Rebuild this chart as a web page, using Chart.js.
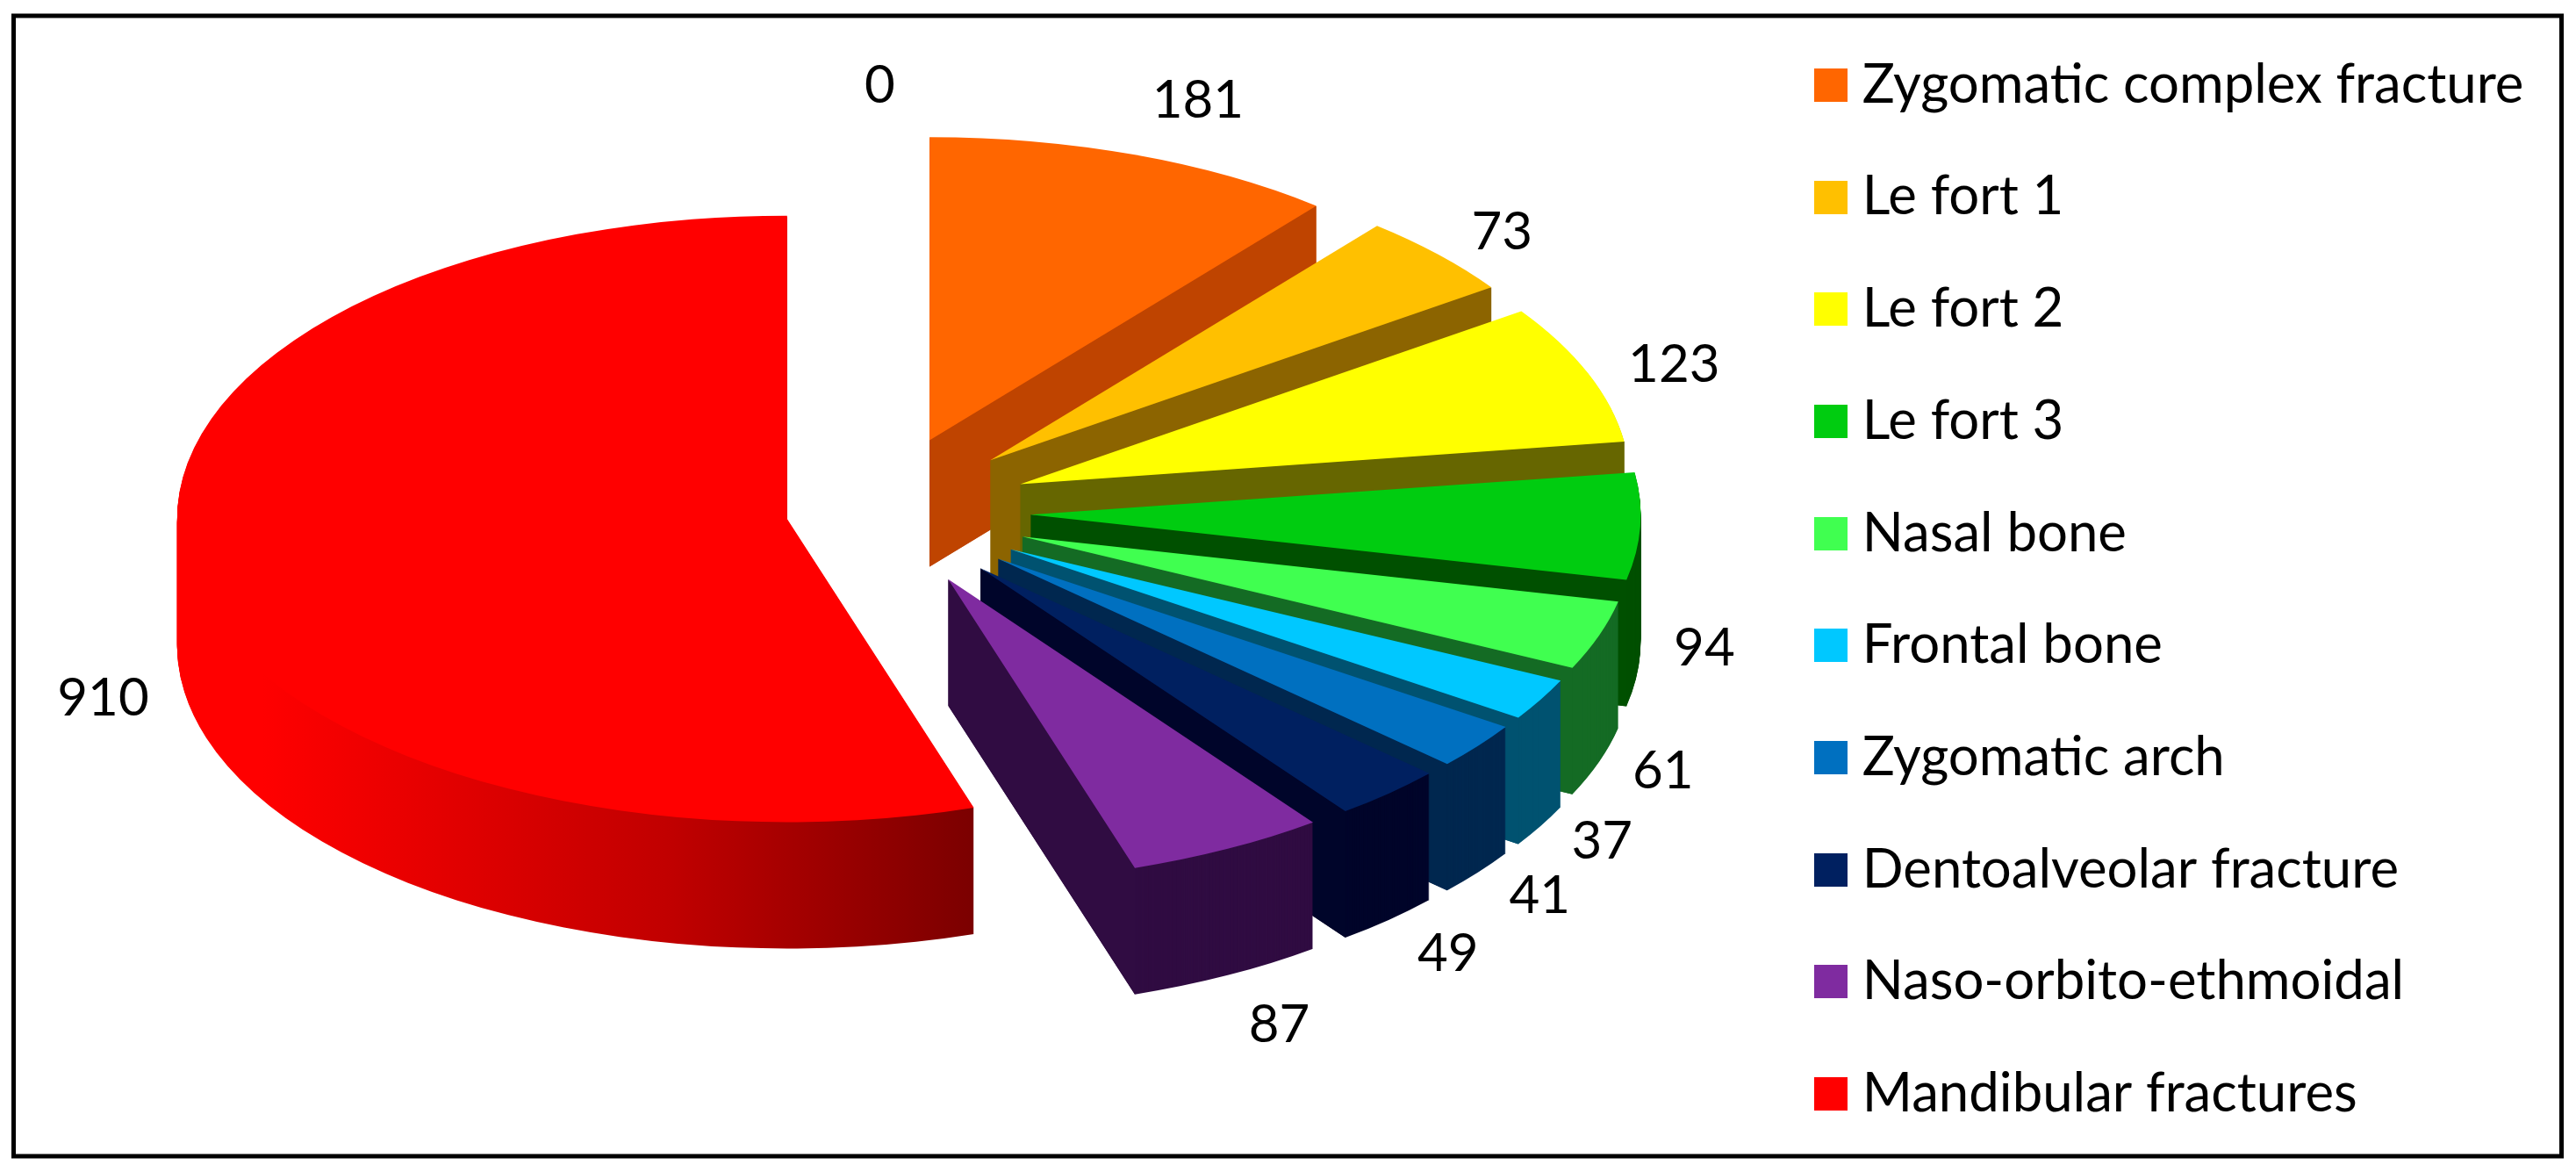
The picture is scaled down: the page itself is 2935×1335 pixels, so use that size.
<!DOCTYPE html>
<html>
<head>
<meta charset="utf-8">
<style>html,body{margin:0;padding:0;background:#fff}canvas{display:block}</style>
<script src="https://cdn.jsdelivr.net/npm/chart.js@4"></script>
</head>
<body>
<canvas id="c" width="2935" height="1335"></canvas>
<script>
const categories = ['', 'Zygomatic complex fracture', 'Le fort 1', 'Le fort 2', 'Le fort 3', 'Nasal bone', 'Frontal bone', 'Zygomatic arch', 'Dentoalveolar fracture', 'Naso-orbito-ethmoidal', 'Mandibular fractures'];
const fractures = [0, 181, 73, 123, 94, 61, 37, 41, 49, 87, 910];
const topColors = ['rgba(0,0,0,0)', '#ff6600', '#ffc000', '#ffff00', '#00cc10', '#40ff50', '#00c8ff', '#0070c0', '#002060', '#7f2ba0', '#ff0000'];
const sideColors = ['rgba(0,0,0,0)', '#bf4400', '#8c6400', '#666600', '#005000', '#146b24', '#005270', '#00274f', '#00052a', '#300c42', '#7c0000'];
const explosion = [174, 174, 174, 174, 174, 174, 174, 174, 174, 174, 105];
const labelReach = [1.156, 1.196, 1.124, 1.148, 1.108, 1.094, 1.094, 1.105, 1.116, 1.156, 1.167];
const labelNudgeX = [2, 26, 9, 2, -2, 11, 13, 13, 13, 9, 22];
const labelNudgeY = [0, 2, 4, 9, -6, 0, 2, 4, 9, 9, -2];

const CX = 1000.5, CY = 583, TILT = 0.497, DEPTH = 144, RADIUS = 695;
const FONT = 'Lato, "Open Sans", sans-serif';

function swatch(color) {
  const s = document.createElement('canvas');
  s.width = 38; s.height = 38;
  const g = s.getContext('2d');
  g.fillStyle = color; g.fillRect(0, 0, 38, 38);
  return s;
}

function paintArc(ctx, arc, fill, X0, Y0) {
  ctx.save();
  ctx.translate(X0, Y0);
  ctx.scale(1, TILT);
  ctx.translate(-arc.x, -arc.y);
  const view = Object.create(arc, {options: {value: Object.assign({}, arc.options, {backgroundColor: fill, borderWidth: 0}), writable: true}});
  view.draw(ctx);
  ctx.restore();
}

function paintFace(ctx, X0, Y0, angle, R, fill) {
  const ex = X0 + R * Math.cos(angle), ey = Y0 + TILT * R * Math.sin(angle);
  ctx.beginPath();
  ctx.moveTo(X0, Y0);
  ctx.lineTo(ex, ey);
  ctx.lineTo(ex, ey + DEPTH);
  ctx.lineTo(X0, Y0 + DEPTH);
  ctx.closePath();
  ctx.fillStyle = fill;
  ctx.fill();
}

const pie3d = {
  id: 'pie3d',
  beforeDraw(chart) {
    const ctx = chart.ctx;
    ctx.save();
    ctx.fillStyle = '#fff';
    ctx.fillRect(0, 0, chart.width, chart.height);
    ctx.strokeStyle = '#000';
    ctx.lineWidth = 5;
    ctx.strokeRect(15.5, 18, 2903, 1299);
    ctx.restore();
  },
  afterLayout(chart) {
    const lg = chart.legend;
    const w = lg.right - lg.left;
    lg.left = 2080 - lg.options.labels.padding;
    lg.right = lg.left + w;
    lg.top = 0;
  },
  beforeDatasetDraw(chart) {
    const ctx = chart.ctx;
    const arcs = chart.getDatasetMeta(0).data;
    arcs.forEach((arc, i) => {
      const mid = (arc.startAngle + arc.endAngle) / 2;
      const R = arc.outerRadius;
      const X0 = CX + explosion[i] * Math.cos(mid);
      const Y0 = CY + TILT * explosion[i] * Math.sin(mid);
      if (arc.circumference > 0) {
        let wall = sideColors[i];
        if (i === categories.length - 1) {
          const g = ctx.createLinearGradient(arc.x - 0.86 * R, 0, arc.x + 0.30 * R, 0);
          g.addColorStop(0, '#ff0000');
          g.addColorStop(0.58, '#c00000');
          g.addColorStop(1, sideColors[i]);
          wall = g;
        }
        for (let d = DEPTH; d >= 1; d -= 1) paintArc(ctx, arc, wall, X0, Y0 + d);
        if (Math.cos(arc.startAngle) < 0) paintFace(ctx, X0, Y0, arc.startAngle, R, sideColors[i]);
        if (Math.cos(arc.endAngle) > 0) paintFace(ctx, X0, Y0, arc.endAngle, R, sideColors[i]);
        paintArc(ctx, arc, topColors[i], X0, Y0);
      }
    });
    ctx.save();
    ctx.fillStyle = '#000';
    ctx.font = '60px ' + FONT;
    ctx.textAlign = 'center';
    ctx.textBaseline = 'middle';
    arcs.forEach((arc, i) => {
      const mid = (arc.startAngle + arc.endAngle) / 2;
      const r = labelReach[i] * arc.outerRadius + explosion[i];
      const below = Math.sin(mid) > 0 ? DEPTH : 0;
      ctx.fillText(String(fractures[i]), CX + r * Math.cos(mid) + labelNudgeX[i], CY + TILT * r * Math.sin(mid) + below + labelNudgeY[i]);
    });
    ctx.restore();
    return false;
  }
};

new Chart(document.getElementById('c'), {
  type: 'pie',
  data: {
    labels: categories,
    datasets: [{data: fractures, backgroundColor: topColors, borderWidth: 0, radius: RADIUS}]
  },
  plugins: [pie3d],
  options: {
    responsive: false,
    devicePixelRatio: 1,
    animation: false,
    radius: RADIUS,
    layout: {padding: {bottom: -40}},
    plugins: {
      tooltip: {enabled: false},
      legend: {
        position: 'right',
        align: 'start',
        labels: {
          color: '#000',
          font: {family: FONT, size: 61.7},
          padding: 66,
          usePointStyle: true,
          pointStyleWidth: 11,
          boxHeight: 38,
          generateLabels() {
            return categories.map((t, i) => ({text: t, index: i, pointStyle: swatch(topColors[i]), fillStyle: topColors[i], strokeStyle: topColors[i], lineWidth: 0, hidden: false, fontColor: '#000'})).filter(it => it.text !== '');
          }
        }
      }
    }
  }
});
</script>
</body>
</html>
